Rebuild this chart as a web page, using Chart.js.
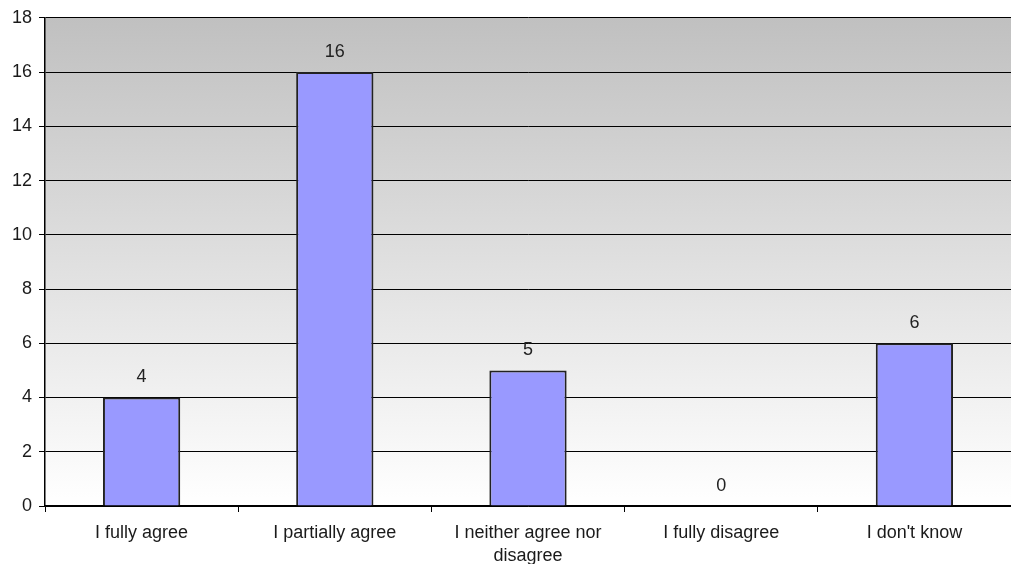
<!DOCTYPE html>
<html>
<head>
<meta charset="utf-8">
<script src="https://cdn.jsdelivr.net/npm/chart.js@4"></script>
<style>
  html, body { margin: 0; padding: 0; background: #fff; }
  #wrap { width: 1011px; height: 564px; }
</style>
</head>
<body>
<div id="wrap"><canvas id="barChart" width="1011" height="564"></canvas></div>
<script>
const categories = ["I fully agree", "I partially agree", ["I neither agree nor", "disagree"], "I fully disagree", "I don't know"];
const answers = [4, 16, 5, 0, 6];
const yMin = 0, yMax = 18, yStep = 2;

const FONT = "'Liberation Sans', Arial, sans-serif";

// grey-to-white fill behind the plot
const plotBackground = {
    id: "plotBackground",
    beforeDraw(chart) {
        const { ctx, chartArea: a } = chart;
        const g = ctx.createLinearGradient(0, a.top, 0, a.bottom);
        g.addColorStop(0, "#c0c0c0");
        g.addColorStop(1, "#ffffff");
        ctx.save();
        ctx.fillStyle = g;
        ctx.fillRect(a.left, a.top, a.right - a.left, a.bottom - a.top);
        ctx.restore();
    }
};

// value written above each bar
const valueLabels = {
    id: "valueLabels",
    afterDatasetsDraw(chart) {
        const { ctx } = chart;
        const meta = chart.getDatasetMeta(0);
        ctx.save();
        ctx.font = "18px " + FONT;
        ctx.fillStyle = "#222";
        ctx.textAlign = "center";
        ctx.textBaseline = "bottom";
        meta.data.forEach((bar, i) => {
            ctx.fillText(String(answers[i]), bar.x, bar.y - 11);
        });
        ctx.restore();
    }
};

new Chart(document.getElementById("barChart"), {
    type: "bar",
    data: {
        labels: categories,
        datasets: [{
            data: answers,
            backgroundColor: "#9999ff",
            borderColor: "#222222",
            borderWidth: 2,
            barPercentage: 0.4,
            categoryPercentage: 1
        }]
    },
    options: {
        responsive: false,
        animation: false,
        layout: { padding: { top: 16, right: 0, left: 0, bottom: 0 } },
        plugins: {
            legend: { display: false },
            tooltip: { enabled: false }
        },
        scales: {
            x: {
                afterFit(scale) { scale.height = 58; },
                grid: { drawOnChartArea: false, drawTicks: true, tickLength: 6, color: "#000", offset: true },
                border: { color: "#000", width: 1.5 },
                ticks: {
                    color: "#1a1a1a",
                    font: { family: FONT, size: 18, lineHeight: 1.25 },
                    maxRotation: 0,
                    autoSkip: false,
                    padding: 10
                }
            },
            y: {
                min: yMin,
                max: yMax,
                afterFit(scale) { scale.width = 45; },
                grid: { color: "#000", lineWidth: 1, tickLength: 6 },
                border: { color: "#000", width: 1.5 },
                ticks: {
                    stepSize: yStep,
                    color: "#1a1a1a",
                    font: { family: FONT, size: 18 },
                    padding: 7
                }
            }
        }
    },
    plugins: [plotBackground, valueLabels]
});
</script>
</body>
</html>
